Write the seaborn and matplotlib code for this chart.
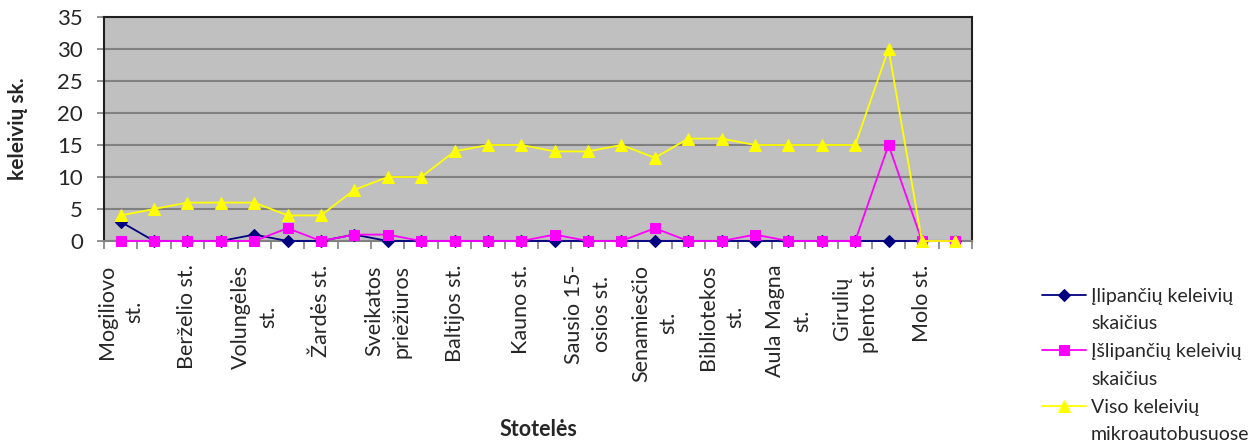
import numpy as np
import pandas as pd
import matplotlib
matplotlib.use('Agg')
import matplotlib.pyplot as plt
import seaborn as sns
from matplotlib.ticker import MultipleLocator, FixedLocator

# --- DATA ---
stop_labels = ['Mogiliovo\nst.', 'Berželio st.', 'Volungėlės\nst.', 'Žardės st.',
               'Sveikatos\npriežiuros', 'Baltijos st.', 'Kauno st.', 'Sausio 15-\nosios st.',
               'Senamiesčio\nst.', 'Bibliotekos\nst.', 'Aula Magna\nst.', 'Girulių\nplento st.',
               'Molo st.']
boarding = [3, 0, 0, 0, 1, 0, 0, 1, 0, 0, 0, 0, 0, 0, 0, 0, 0, 0, 0, 0, 0, 0, 0, 0, 0, 0]
alighting = [0, 0, 0, 0, 0, 2, 0, 1, 1, 0, 0, 0, 0, 1, 0, 0, 2, 0, 0, 1, 0, 0, 0, 15, 0, 0]
total = [4, 5, 6, 6, 6, 4, 4, 8, 10, 10, 14, 15, 15, 14, 14, 15, 13, 16, 16, 15, 15, 15, 15, 30, 0, 0]
series_names = [('Įlipančių keleivių', 'skaičius'), ('Įšlipančių keleivių', 'skaičius'),
                ('Viso keleivių', 'mikroautobusuose')]

# --- STYLE ---
sns.set_style("white")
plt.rcParams['font.family'] = ['Lato', 'DejaVu Sans']

fig = plt.figure(figsize=(12.58, 4.43), dpi=100)
ax = fig.add_axes([104 / 1258, 1 - 241 / 443, (972 - 104) / 1258, (241 - 17) / 443])
ax.set_facecolor('#C0C0C0')

x = np.arange(len(total))
styles = [
    (boarding, '#000080', 'D', 6.5),
    (alighting, '#FF00FF', 's', 7.5),
    (total, '#FFFF00', '^', 8.5),
]
handles, labels = [], []
for (vals, col, mk, ms), (l1, l2) in zip(styles, series_names):
    sns.lineplot(x=x, y=vals, color=col, marker=mk, markersize=ms,
                 markeredgecolor=col, linewidth=1.3, ax=ax, clip_on=False, zorder=3)
    # legend: series line with first text line, blank row for the wrapped second line
    handles += [ax.lines[-1], plt.Line2D([], [], alpha=0)]
    labels += [l1, l2]

ax.set_xlim(-0.5, len(total) - 0.5)
ax.set_ylim(0, 35)
ax.yaxis.set_major_locator(MultipleLocator(5))
ax.grid(axis='y', color='#808080', linewidth=1.5)
ax.set_axisbelow(True)

# category labels on every second category, tick marks between categories
ax.xaxis.set_major_locator(FixedLocator(x[::2]))
ax.set_xticklabels(stop_labels, rotation=90, fontsize=15.5, va='top', ha='center',
                   multialignment='center', linespacing=1.45)
ax.xaxis.set_minor_locator(FixedLocator(np.arange(-0.5, len(total), 1)))
ax.tick_params(axis='x', which='major', length=0, pad=17)
ax.tick_params(axis='x', which='minor', length=5.5, width=1.2, color='#808080', bottom=True)
ax.tick_params(axis='y', length=5, width=1.2, color='#808080', labelsize=16, left=True, pad=10)

for side in ['top', 'right', 'left']:
    ax.spines[side].set_color('#202020')
    ax.spines[side].set_linewidth(1.5)
ax.spines['bottom'].set_color('#808080')
ax.spines['bottom'].set_linewidth(1.5)

ax.set_ylabel('keleivių sk.', fontsize=15, fontweight='bold')
ax.yaxis.set_label_coords(-76 / 868, 0.5)
ax.set_xlabel('Stotelės', fontsize=15.5, fontweight='bold')
ax.xaxis.set_label_coords(0.5, -0.795)

fig.legend(handles, labels, loc='upper left',
           bbox_to_anchor=(1034 / 1258, 1 - 280 / 443),
           frameon=False, fontsize=14, handlelength=2.25, labelspacing=0.55,
           handletextpad=0.28, borderaxespad=0)

fig.savefig('out.png', dpi=100)
